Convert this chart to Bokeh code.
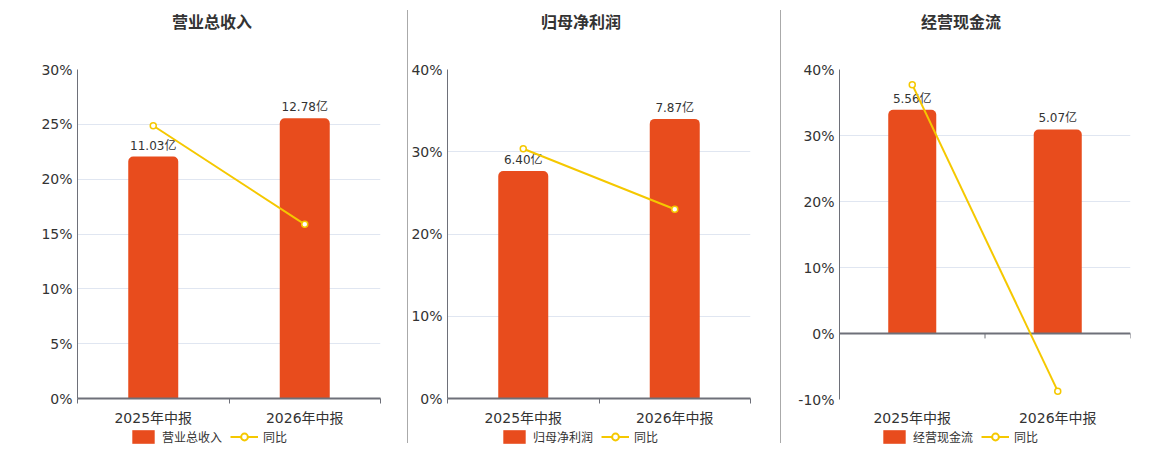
from bokeh.plotting import figure
from bokeh.models import (Range1d, LinearAxis, FixedTicker, CustomJSTickFormatter,
                          PrintfTickFormatter, ColumnDataSource, Legend, LegendItem, Div)
from bokeh.layouts import row, column
from bokeh.core.properties import value
from bokeh.embed import file_html
from bokeh.resources import INLINE

# ---- data ----
categories = ["2025年中报", "2026年中报"]

titles = ["营业总收入", "归母净利润", "经营现金流"]

revenue = [11.03, 12.78]          # 亿
revenue_yoy = [24.87, 15.88]      # %

net_profit = [6.40, 7.87]         # 亿
net_profit_yoy = [30.36, 23.01]   # %

cash_flow = [5.56, 5.07]          # 亿
cash_flow_yoy = [37.7, -8.74]     # %

yoy_name = "同比"

# ---- style ----
BAR = "#E84C1D"
YEL = "#F5C800"
AXIS = "#6E7079"
GRID = "#E0E6F1"
TXT = "#333333"
FONT = "DejaVu Sans, Noto Sans CJK SC"
TITLE_H = 45
MAIN_H = 383
LEG_H = 17


def make_panel(title, bars, yoy, y_start, y_end, y_step, bar_start, bar_end,
               width, bl, br, title_indent, legend_x, zero_axis=False):
    n = len(categories)
    centers = [i + 0.5 for i in range(n)]   # category slot centres on an index scale

    head = Div(text=title, width=width, height=TITLE_H, margin=0,
               styles={"font-size": "16px", "font-weight": "bold", "color": TXT,
                       "font-family": FONT, "line-height": f"{TITLE_H}px",
                       "text-indent": f"{title_indent}px", "white-space": "nowrap"})

    p = figure(width=width, height=MAIN_H,
               x_range=Range1d(0, n),
               y_range=Range1d(y_start, y_end),
               output_backend="svg", toolbar_location=None,
               x_axis_location=None, y_axis_location="left",
               min_border_left=bl, min_border_right=br, min_border_top=24, min_border_bottom=24)
    p.outline_line_color = None
    p.background_fill_color = "white"
    p.border_fill_color = "white"
    p.extra_y_ranges = {"bar": Range1d(bar_start, bar_end)}

    # y axis
    ya = p.yaxis[0]
    ya.ticker = FixedTicker(ticks=list(range(y_start, y_end + 1, y_step)))
    ya.formatter = PrintfTickFormatter(format="%d%%")
    ya.major_tick_line_color = None
    ya.minor_tick_line_color = None
    ya.major_tick_out = 0
    ya.minor_tick_out = 0
    ya.axis_line_color = AXIS
    ya.major_label_text_font_size = "14px"
    ya.major_label_text_color = TXT
    ya.major_label_text_font = FONT
    ya.major_label_standoff = 5
    for g in p.grid:
        if g.dimension == 0:
            g.visible = False
        else:
            g.grid_line_color = GRID

    # x axis (category labels centred, boundary ticks)
    xa = LinearAxis(ticker=FixedTicker(ticks=centers, minor_ticks=list(range(n + 1))),
                    formatter=CustomJSTickFormatter(args=dict(labels=categories),
                                                    code="return labels[Math.floor(tick)];"))
    xa.major_tick_out = 0
    xa.major_tick_in = 0
    xa.major_tick_line_color = None
    xa.major_label_text_font_size = "14px"
    xa.major_label_text_color = TXT
    xa.major_label_text_font = FONT
    xa.major_label_standoff = 6
    if zero_axis:
        xa.axis_line_color = None
        xa.minor_tick_line_color = None
    else:
        xa.axis_line_color = AXIS
        xa.axis_line_width = 2
        xa.minor_tick_out = 5
        xa.minor_tick_in = 0
        xa.minor_tick_line_color = AXIS
    p.add_layout(xa, "below")

    src = ColumnDataSource(dict(x=centers, cat=categories, val=bars, yoy=yoy,
                                lab=[f"{v:.2f}亿" for v in bars]))

    p.vbar(x="x", top="val", bottom=0, width=0.33, source=src, y_range_name="bar",
           fill_color=BAR, line_color=None, border_radius=(5, 5, 0, 0))
    p.text(x="x", y="val", text="lab", source=src, y_range_name="bar",
           text_align="center", text_baseline="bottom", y_offset=-4,
           text_font_size="12px", text_color=TXT, text_font=value(FONT))

    if zero_axis:
        p.segment(x0=[0], x1=[n], y0=[0], y1=[0],
                  line_color=AXIS, line_width=2)
        p.segment(x0=list(range(n + 1)), x1=list(range(n + 1)), y0=[0] * (n + 1),
                  y1=[-(y_end - y_start) * 5 / 335] * (n + 1),
                  line_color=AXIS, line_width=1)

    p.line(x="x", y="yoy", source=src, line_color=YEL, line_width=2)
    p.scatter(x="x", y="yoy", source=src, marker="circle", size=6,
              fill_color="white", line_color=YEL, line_width=1.5)

    # legend strip (its frame is aligned with the chart frame above it);
    # the legend-only renderers hold one point outside the visible range
    lg = figure(width=width, height=LEG_H, x_range=Range1d(0, 1), y_range=Range1d(0, 1),
                output_backend="svg", toolbar_location=None,
                x_axis_location=None, y_axis_location=None,
                min_border_left=bl, min_border_right=br, min_border_top=0, min_border_bottom=0)
    lg.outline_line_color = None
    lg.grid.visible = False
    lb = lg.vbar(x=[-5], top=[-5], bottom=[-6], width=0.3, fill_color=BAR, line_color=None,
                 border_radius=4)
    ll = lg.line(x=[-5, -4], y=[-5, -5], line_color=YEL, line_width=2)
    lm = lg.scatter(x=[-5], y=[-5], marker="circle", size=10,
                    fill_color="white", line_color=YEL, line_width=2)
    legend = Legend(items=[LegendItem(label=title, renderers=[lb]),
                           LegendItem(label=yoy_name, renderers=[ll, lm])],
                    orientation="horizontal", location=(legend_x, 0),
                    glyph_width=28, glyph_height=17, label_standoff=5, spacing=8,
                    padding=0, margin=0, border_line_color=None, background_fill_alpha=0,
                    label_text_font_size="12px", label_text_color=TXT, label_text_font=FONT,
                    label_height=14)
    lg.add_layout(legend)

    return column(head, p, lg, spacing=0)


c1 = make_panel(titles[0], revenue, revenue_yoy, 0, 30, 5, 0, 15.0,
                407, 77, 27, 172, 52)
c2 = make_panel(titles[1], net_profit, net_profit_yoy, 0, 40, 10, 0, 9.26,
                372, 36, 30, 133, 53)
c3 = make_panel(titles[2], cash_flow, cash_flow_yoy, -10, 40, 10, -1.64, 6.56,
                369, 58, 20, 140, 41, zero_axis=True)


def divider():
    return Div(width=1, height=433, margin=(10, 0, 0, 0),
               styles={"background-color": "#AAAAAA"})


layout = row(c1, divider(), c2, divider(), c3, spacing=0)

open("out.html", "w").write(file_html(layout, INLINE))
